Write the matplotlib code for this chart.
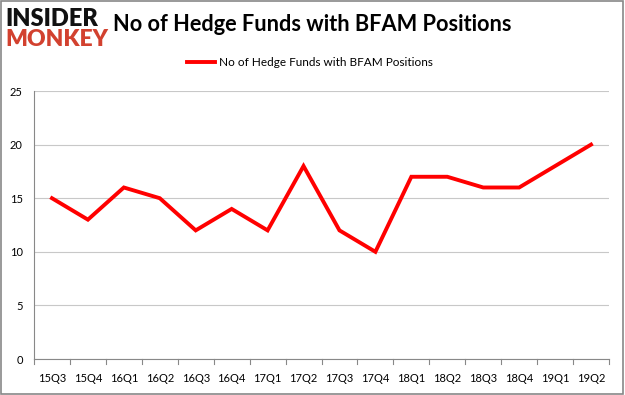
import matplotlib
matplotlib.use("Agg")
import matplotlib.pyplot as plt
from matplotlib.lines import Line2D
from matplotlib.patches import Rectangle

categories = ["15Q3", "15Q4", "16Q1", "16Q2", "16Q3", "16Q4", "17Q1", "17Q2",
              "17Q3", "17Q4", "18Q1", "18Q2", "18Q3", "18Q4", "19Q1", "19Q2"]
values = [15, 13, 16, 15, 12, 14, 12, 18, 12, 10, 17, 17, 16, 16, 18, 20]
yticks = [0, 5, 10, 15, 20, 25]
series_name = "No of Hedge Funds with BFAM Positions"

plt.rcParams['font.family'] = ['Lato', 'DejaVu Sans']
fig = plt.figure(figsize=(6.25, 3.95), dpi=100)
ax = fig.add_axes([0.0544, 0.0911, 0.9200, 0.6785])

x = list(range(len(categories)))
ax.plot(x, values, color="#ff0000", linewidth=2.8, solid_joinstyle="miter")
ax.set_xlim(-0.5, len(categories) - 0.5)
ax.set_ylim(0, 25)
ax.set_yticks(yticks)
ax.set_xticks(x)
ax.set_xticklabels(categories, fontsize=8)
ax.tick_params(axis='y', labelsize=8, length=0, pad=8)
ax.tick_params(axis='x', length=0, pad=10)
for t in [i - 0.5 for i in range(len(categories) + 1)]:
    ax.plot([t, t], [0, -0.45], color="#888888", linewidth=0.8, clip_on=False)
ax.grid(axis='y', color="#c8c8c8", linewidth=0.8)
ax.set_axisbelow(True)
for s in ["top", "right"]:
    ax.spines[s].set_visible(False)
ax.spines["left"].set_color("#888888")
ax.spines["bottom"].set_color("#888888")
ax.spines["left"].set_linewidth(0.8)
ax.spines["bottom"].set_linewidth(0.8)

fig.text(0.181, 0.937, "No of Hedge Funds with BFAM Positions", fontsize=15.7,
         fontweight="bold", ha="left", va="center")
fig.text(0.008, 0.953, "INSIDER", fontsize=17, fontweight="heavy", color="#111111",
         ha="left", va="center")
fig.text(0.008, 0.899, "MONKEY", fontsize=16.5, fontweight="heavy", color="#d2412f",
         ha="left", va="center")

fig.add_artist(Line2D([0.299, 0.344], [0.843, 0.843], color="#ff0000", linewidth=2.8))
fig.text(0.350, 0.843, series_name, fontsize=8.5, ha="left", va="center")

fig.add_artist(Rectangle((0.0015, 0.002), 0.996, 0.995, transform=fig.transFigure,
                         fill=False, edgecolor="#888888", linewidth=1.2))

fig.savefig("out.png", dpi=100)
